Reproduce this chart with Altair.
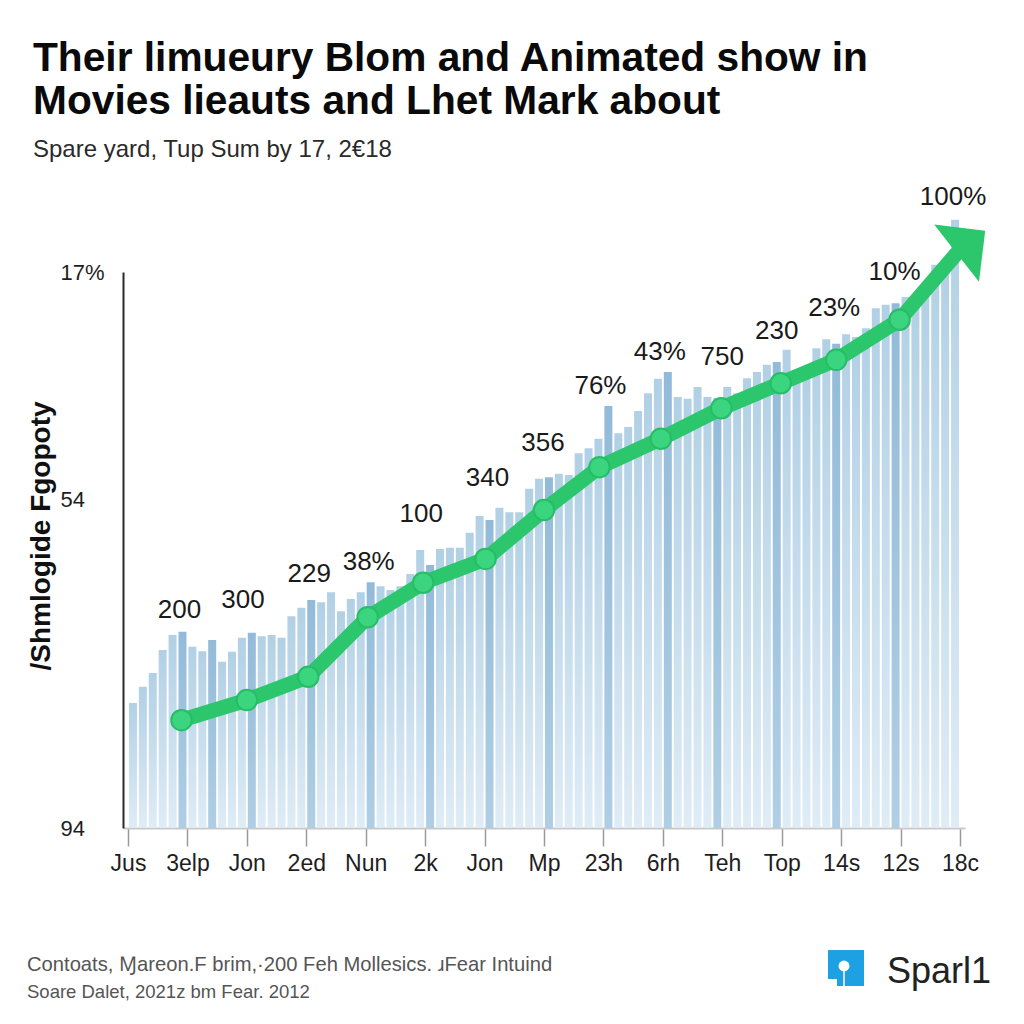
import altair as alt
import pandas as pd

# ---------------- data ----------------
title_text = "Their limueury Blom and Animated show in\nMovies lieauts and Lhet Mark about"
subtitle_text = "Spare yard, Tup Sum by 17, 2\u20ac18"
y_title_text = "/Shmlogide Fgopoty"
footer_1 = "Contoats, \u2c6eareon.F brim,\u00b7200 Feh Mollesics. \u0279Fear Intuind"
footer_2 = "Soare Dalet, 2021z bm Fear. 2012"
logo_text = "Sparl1"

x_tick_labels = ["Jus", "3elp", "Jon", "2ed", "Nun", "2k", "Jon", "Mp",
                 "23h", "6rh", "Teh", "Top", "14s", "12s", "18c"]
x_tick_values = [0, 6, 12, 18, 24, 30, 36, 42, 48, 54, 60, 66, 72, 78, 84]
y_tick_values = [0, 59, 100]
y_tick_labels = ["94", "54", "17%"]

bar_values = [22.5, 25.4, 27.9, 32.0, 34.7, 35.3, 32.6, 31.8, 33.8, 29.9,
              31.7, 34.2, 35.1, 34.5, 34.7, 34.2, 38.1, 39.6, 41.0, 40.6,
              42.4, 39.0, 41.2, 42.4, 44.2, 43.5, 42.8, 43.5, 45.7, 50.0,
              47.3, 50.2, 50.4, 50.4, 53.1, 56.1, 55.4, 57.6, 56.8, 56.8,
              61.0, 62.8, 63.1, 63.7, 63.5, 67.4, 68.3, 70.0, 75.9, 71.0,
              72.1, 75.0, 78.2, 80.8, 82.0, 77.5, 77.2, 79.3, 77.5, 77.3,
              79.3, 78.2, 80.9, 82.0, 83.3, 83.8, 86.0, 80.5, 81.5, 86.3,
              87.9, 87.1, 88.8, 88.3, 89.9, 93.5, 94.1, 94.4, 95.5, 95.0,
              97.0, 101.3, 102.2, 109.4]
dark_bars = [5, 8, 12, 18, 24, 30, 36, 42, 48, 54, 59, 65, 71, 77]

line_x = [5.4, 12.0, 18.2, 24.2, 29.8, 36.1, 42.0, 47.6, 53.8, 59.9, 65.9, 71.5, 77.9]
line_y = [19.4, 23.0, 27.2, 37.9, 44.1, 48.4, 57.2, 64.9, 70.0, 75.5, 80.0, 84.2, 91.4]
arrow_base_x = [83.6]
arrow_base_y = [103.2]
arrow_head_x = [85.1]
arrow_head_y = [105.4]

point_labels = ["200", "300", "229", "38%", "100", "340", "356", "76%",
                "43%", "750", "230", "23%", "10%", "100%"]
label_x = [5.2, 11.6, 18.3, 24.3, 29.6, 36.3, 41.9, 47.7, 53.7, 60.0, 65.5, 71.3, 77.4, 83.3]
label_y = [39.2, 41.0, 45.7, 47.8, 56.5, 62.9, 69.2, 79.5, 85.6, 84.7, 89.4, 93.5, 100.0, 113.5]

# ---------------- tables ----------------
bars = pd.DataFrame({
    "x": [i + 0.5 for i in range(len(bar_values))],
    "y": bar_values,
    "dark": [i in dark_bars for i in range(len(bar_values))],
})
light_df = bars[~bars["dark"]]
dark_df = bars[bars["dark"]]
line_df = pd.DataFrame({"x": line_x + arrow_base_x, "y": line_y + arrow_base_y,
                        "o": list(range(len(line_x) + 1))})
pts_df = pd.DataFrame({"x": line_x, "y": line_y})
head_df = pd.DataFrame({"x": arrow_head_x, "y": arrow_head_y})
lab_df = pd.DataFrame({"x": label_x, "y": label_y, "t": point_labels})

FONT = "Liberation Sans"
GREEN = "#2cc76c"

x_expr = "[" + ",".join("'%s'" % s for s in x_tick_labels) + "][round(datum.value/6)]"
y_expr = " : ".join("datum.value == %s ? '%s'" % (v, l) for v, l in zip(y_tick_values[:-1], y_tick_labels[:-1])) + " : '%s'" % y_tick_labels[-1]

x_scale = alt.Scale(domain=[0, 84], nice=False, zero=False)
y_scale = alt.Scale(domain=[0, 100], nice=False, zero=False)

x_enc = alt.X("x:Q", scale=x_scale, title=None,
              axis=alt.Axis(values=x_tick_values, labelExpr=x_expr, grid=False,
                            domainColor="#c9c9c9", domainWidth=2,
                            tickColor="#9a9a9a", tickWidth=1.5, tickSize=18,
                            labelFont=FONT, labelFontSize=23, labelColor="#1e1e1e",
                            labelPadding=6, labelFlush=False))
y_enc = alt.Y("y:Q", scale=y_scale, title=None,
              axis=alt.Axis(values=y_tick_values, labelExpr=y_expr, grid=False,
                            ticks=False, domainColor="#2a2a2a", domainWidth=2,
                            labelFont=FONT, labelFontSize=22, labelColor="#1e1e1e",
                            labelAlign="left", labelPadding=63, labelFlush=False))


def grad(top, bottom):
    return alt.LinearGradient(gradient="linear", x1=0, x2=0, y1=0, y2=1,
                              stops=[alt.GradientStop(color=top, offset=0),
                                     alt.GradientStop(color=bottom, offset=1)])


light_bars = alt.Chart(light_df).mark_bar(
    size=8, color=grad("#a9cbe2", "#dbeaf5"), opacity=0.9
).encode(x=x_enc, y=y_enc)

dark_bars_layer = alt.Chart(dark_df).mark_bar(
    size=8, color=grad("#8db7d7", "#abcce4"), opacity=0.95
).encode(x=x_enc, y=y_enc)

line = alt.Chart(line_df).mark_line(
    color=GREEN, strokeWidth=15, strokeCap="round", strokeJoin="round"
).encode(x=x_enc, y=y_enc, order="o:Q")

points = alt.Chart(pts_df).mark_point(
    shape="circle", filled=True, size=420, fill="#3bd580", stroke="#27bd66",
    strokeWidth=2, opacity=1
).encode(x=x_enc, y=y_enc)

head = alt.Chart(head_df).mark_point(
    shape="M0,-0.5L1,0.5L-1,0.5Z", size=5300, angle=52, filled=True,
    color=GREEN, opacity=1
).encode(x=x_enc, y=y_enc)

labels = alt.Chart(lab_df).mark_text(
    font=FONT, fontSize=26, color="#1a1a1a", baseline="middle", align="center"
).encode(x=x_enc, y=y_enc, text="t:N")


def text_layer(s, x, y, size, weight="normal", color="#111", angle=0, align="left",
               baseline="alphabetic", line_height=None):
    kw = dict(font=FONT, fontSize=size, fontWeight=weight, color=color,
              align=align, baseline=baseline, angle=angle)
    if line_height is not None:
        kw["lineBreak"] = "\n"
        kw["lineHeight"] = line_height
    return alt.Chart(pd.DataFrame({"t": [s]})).mark_text(**kw).encode(
        x=alt.value(x), y=alt.value(y), text="t:N")


title_l = text_layer(title_text, -90, -201, 40.7, weight="bold", color="#0a0a0a",
                     line_height=43)
subtitle_l = text_layer(subtitle_text, -90, -115, 24, color="#2a2a2a")
ytitle_l = text_layer(y_title_text, -81, 264, 28, weight="bold", color="#111",
                      angle=270, align="center", baseline="middle")
foot1 = text_layer(footer_1, -96, 699, 20.2, color="#555555")
foot2 = text_layer(footer_2, -96, 726, 18.5, color="#555555")
logo_t = text_layer(logo_text, 764, 711, 36, color="#222222")

logo_box = alt.Chart(pd.DataFrame({"t": [logo_text]})).mark_rect(color="#1da1e2").encode(
    x=alt.value(705), x2=alt.value(741), y=alt.value(678), y2=alt.value(714))
logo_notch = alt.Chart(pd.DataFrame({"t": [logo_text]})).mark_rect(color="white").encode(
    x=alt.value(705), x2=alt.value(714), y=alt.value(707), y2=alt.value(714))
logo_dot = alt.Chart(pd.DataFrame({"t": [logo_text]})).mark_point(
    shape="circle", filled=True, color="white", size=120, opacity=1).encode(
    x=alt.value(721), y=alt.value(694))
logo_stem = alt.Chart(pd.DataFrame({"t": [logo_text]})).mark_rule(
    color="white", strokeWidth=1.5).encode(
    x=alt.value(721), y=alt.value(699), y2=alt.value(714))

chart = alt.layer(
    light_bars, dark_bars_layer, line, points, head, labels,
    title_l, subtitle_l, ytitle_l, foot1, foot2,
    logo_box, logo_notch, logo_dot, logo_stem, logo_t
).properties(
    width=842, height=556,
    autosize=alt.AutoSizeParams(type="none"),
    padding={"left": 123, "top": 272, "right": 59, "bottom": 196},
    background="white",
).configure_view(stroke=None)

chart.save("out.html", embed_options={"renderer": "svg", "actions": False})
